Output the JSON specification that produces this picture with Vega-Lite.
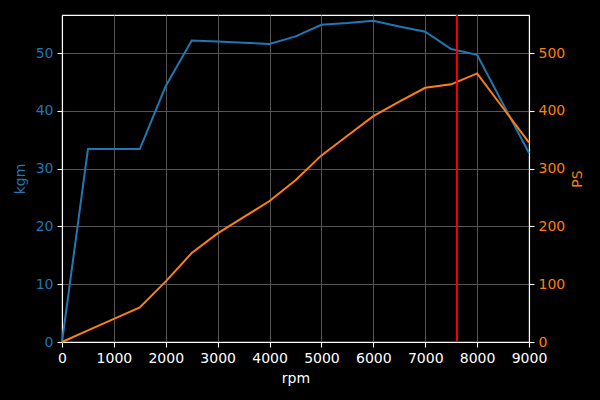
{
  "$schema": "https://vega.github.io/schema/vega-lite/v6.json",
  "width": 467,
  "height": 327,
  "autosize": {"type": "none"},
  "padding": {"left": 62, "top": 15, "right": 71, "bottom": 58},
  "background": "black",
  "config": {
    "view": {"stroke": "white", "strokeWidth": 1.1},
    "font": "DejaVu Sans",
    "axis": {
      "labelFont": "DejaVu Sans",
      "titleFont": "DejaVu Sans",
      "labelFontSize": 14,
      "titleFontSize": 14,
      "titleFontWeight": "normal",
      "domainColor": "white",
      "domainWidth": 1.1,
      "tickColor": "white",
      "tickSize": 5,
      "tickWidth": 1.1,
      "gridColor": "#555555",
      "gridWidth": 1,
      "labelPadding": 4,
      "labelFlush": false,
      "labelOverlap": false
    }
  },
  "datasets": {
    "engine": [
      {"rpm": 0, "kgm": 0, "PS": 0},
      {"rpm": 500, "kgm": 33.4, "PS": 20},
      {"rpm": 1000, "kgm": 33.4, "PS": 40},
      {"rpm": 1500, "kgm": 33.4, "PS": 60},
      {"rpm": 2000, "kgm": 44.3, "PS": 105},
      {"rpm": 2500, "kgm": 52.2, "PS": 154},
      {"rpm": 3000, "kgm": 52.0, "PS": 188},
      {"rpm": 3500, "kgm": 51.8, "PS": 216},
      {"rpm": 4000, "kgm": 51.6, "PS": 244},
      {"rpm": 4500, "kgm": 52.9, "PS": 280},
      {"rpm": 5000, "kgm": 54.9, "PS": 323},
      {"rpm": 5500, "kgm": 55.2, "PS": 357},
      {"rpm": 6000, "kgm": 55.6, "PS": 391},
      {"rpm": 6500, "kgm": 54.6, "PS": 416},
      {"rpm": 7000, "kgm": 53.7, "PS": 440},
      {"rpm": 7500, "kgm": 50.7, "PS": 446},
      {"rpm": 8000, "kgm": 49.7, "PS": 465},
      {"rpm": 8500, "kgm": 41.2, "PS": 405},
      {"rpm": 9000, "kgm": 32.7, "PS": 345}
    ],
    "redline": [{"rpm": 7610}]
  },
  "encoding": {
    "x": {
      "field": "rpm",
      "type": "quantitative",
      "scale": {"domain": [0, 9000], "nice": false},
      "axis": {
        "title": "rpm",
        "titleColor": "white",
        "labelColor": "white",
        "values": [0, 1000, 2000, 3000, 4000, 5000, 6000, 7000, 8000, 9000],
        "format": "d",
        "titlePadding": 6
      }
    }
  },
  "layer": [
    {
      "data": {"name": "engine"},
      "mark": {"type": "line", "color": "#1f77b4", "strokeWidth": 2},
      "encoding": {
        "y": {
          "field": "kgm",
          "type": "quantitative",
          "scale": {"domain": [0, 56.6], "nice": false, "zero": true},
          "axis": {
            "orient": "left",
            "title": "kgm",
            "titleColor": "#1f77b4",
            "labelColor": "#1f77b4",
            "values": [0, 10, 20, 30, 40, 50],
            "titlePadding": 8
          }
        }
      }
    },
    {
      "data": {"name": "engine"},
      "mark": {"type": "line", "color": "#ff7f0e", "strokeWidth": 2},
      "encoding": {
        "y": {
          "field": "PS",
          "type": "quantitative",
          "scale": {"domain": [0, 566], "nice": false, "zero": true},
          "axis": {
            "orient": "right",
            "title": "PS",
            "titleColor": "#ff7f0e",
            "labelColor": "#ff7f0e",
            "values": [0, 100, 200, 300, 400, 500],
            "grid": false,
            "titleAngle": 270,
            "titlePadding": 20
          }
        }
      }
    },
    {
      "data": {"name": "redline"},
      "mark": {"type": "rule", "color": "red", "strokeWidth": 2},
      "encoding": {}
    }
  ],
  "resolve": {"scale": {"y": "independent"}, "axis": {"y": "independent"}}
}
